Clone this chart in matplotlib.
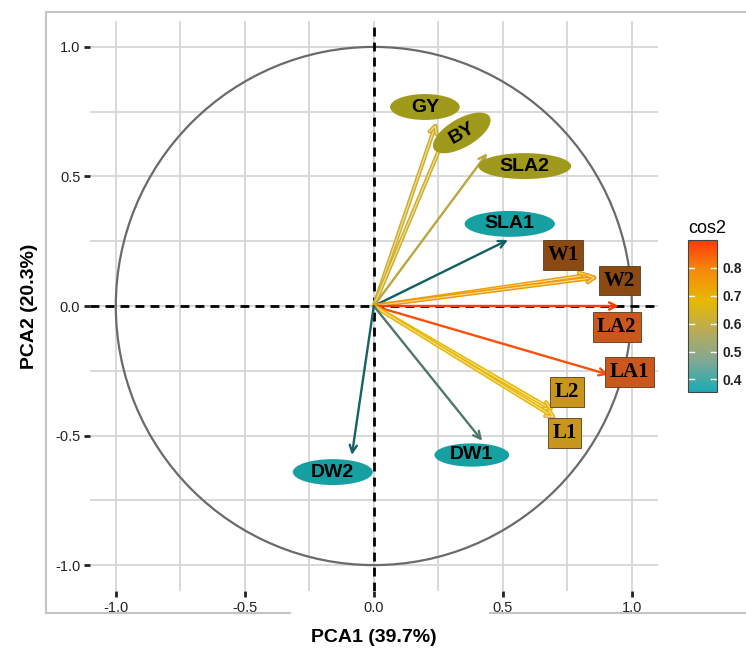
import numpy as np
import matplotlib
matplotlib.use('Agg')
import matplotlib.pyplot as plt
from matplotlib.colors import LinearSegmentedColormap, Normalize
from matplotlib.patches import Circle, Ellipse
from matplotlib.lines import Line2D
import matplotlib.patheffects as pe
import matplotlib.cm as cm

# variable coordinates on PC1 / PC2
var_names = ['GY', 'BY', 'SLA2', 'SLA1', 'W1', 'W2', 'LA2', 'LA1', 'L2', 'L1', 'DW1', 'DW2']
pc1 = [0.24, 0.29, 0.44, 0.52, 0.83, 0.86, 0.95, 0.91, 0.69, 0.70, 0.42, -0.085]
pc2 = [0.70, 0.69, 0.59, 0.255, 0.12, 0.11, 0.0, -0.265, -0.40, -0.43, -0.52, -0.575]
# quality of representation
cos2 = [0.62, 0.62, 0.60, 0.36, 0.74, 0.76, 0.90, 0.87, 0.68, 0.68, 0.45, 0.37]

# label placement and style
label_pos = [(0.198, 0.768), (0.341, 0.668), (0.585, 0.540), (0.527, 0.317),
             (0.733, 0.197), (0.953, 0.097), (0.942, -0.081), (0.992, -0.255),
             (0.748, -0.332), (0.740, -0.490), (0.380, -0.575), (-0.159, -0.641)]
label_shape = ['ell', 'ell', 'ell', 'ell', 'box', 'box', 'box', 'box', 'box', 'box', 'ell', 'ell']
label_color = ['#a09a1c', '#a09a1c', '#a09a1c', '#17a0a2', '#8b4a14', '#8b4a14',
               '#c9571e', '#c9571e', '#c8961c', '#c8961c', '#17a0a2', '#17a0a2']
hollow = ['GY', 'BY', 'W1', 'W2', 'L1', 'L2']
ell_size = {'GY': (0.27, 0.10), 'BY': (0.25, 0.11), 'SLA2': (0.36, 0.10),
            'SLA1': (0.35, 0.10), 'DW1': (0.29, 0.09), 'DW2': (0.31, 0.10)}
ell_angle = {'BY': 30}

cmap = LinearSegmentedColormap.from_list(
    'fx', ['#1aaab5', '#7fa894', '#b8ab58', '#E7B800', '#f58a0a', '#FC3a0a'])
norm = Normalize(vmin=0.355, vmax=0.90)

fig = plt.figure(figsize=(7.46, 6.48), dpi=100)
ax = fig.add_axes([90 / 746, 57 / 648, 567.6 / 746, 570 / 648])
ax.set_xlim(-1.1, 1.1)
ax.set_ylim(-1.1, 1.1)

grid_c = '#d6d6d6'
for g in np.arange(-1.0, 1.01, 0.25):
    ax.axvline(g, color=grid_c, lw=1.3, zorder=0)
    ax.axhline(g, color=grid_c, lw=1.3, zorder=0)
for s in ax.spines.values():
    s.set_visible(False)

ax.add_patch(Circle((0, 0), 1.0, fill=False, ec='#6a6a6a', lw=1.6, zorder=1))
ax.axhline(0, color='black', lw=2, ls=(0, (3.2, 2.2)), zorder=2)
ax.axvline(0, color='black', lw=2, ls=(0, (3.2, 2.2)), zorder=2)

for i, name in enumerate(var_names):
    n = norm(cos2[i])
    f = min(1.0, 0.55 + 0.9 * n)
    r, g, b, _ = cmap(n)
    c = (r * f, g * f, b * f)
    if name in hollow:
        ax.annotate('', xy=(pc1[i], pc2[i]), xytext=(0, 0),
                    arrowprops=dict(arrowstyle='->', color='#f6dc8c', lw=0.9,
                                    shrinkA=0, shrinkB=0, mutation_scale=13,
                                    path_effects=[pe.Stroke(linewidth=3.0, foreground=c),
                                                  pe.Normal()]),
                    zorder=3)
    else:
        ax.annotate('', xy=(pc1[i], pc2[i]), xytext=(0, 0),
                    arrowprops=dict(arrowstyle='->', color=c, lw=1.7,
                                    shrinkA=0, shrinkB=0, mutation_scale=13),
                    zorder=3)

for i, name in enumerate(var_names):
    lx, ly = label_pos[i]
    if label_shape[i] == 'ell':
        w, h = ell_size[name]
        ang = ell_angle.get(name, 0)
        ax.add_patch(Ellipse((lx, ly), w, h, angle=ang, fc=label_color[i],
                             ec='none', zorder=4))
        ax.text(lx, ly, name, ha='center', va='center', rotation=ang,
                fontsize=14, fontweight='bold', family='Liberation Sans',
                color='black', zorder=5)
    else:
        ax.text(lx, ly, name, ha='center', va='center',
                fontsize=15, fontweight='bold', family='Liberation Serif',
                color='black', zorder=5,
                bbox=dict(boxstyle='square,pad=0.22', fc=label_color[i],
                          ec='#5a3a1a', lw=0.6))

ticks = [-1.0, -0.5, 0.0, 0.5, 1.0]
ax.set_xticks(ticks)
ax.set_yticks(ticks)
ax.set_xticklabels(['-1.0', '-0.5', '0.0', '0.5', '1.0'])
ax.set_yticklabels(['-1.0', '-0.5', '0.0', '0.5', '1.0'])
ax.tick_params(length=4, width=2, color='#222222', labelsize=10.5,
               labelcolor='#222222', pad=3)
for lab in ax.get_xticklabels() + ax.get_yticklabels():
    lab.set_family('Liberation Sans')

ax.set_xlabel('PCA1 (39.7%)', fontsize=14, fontweight='bold',
              family='Liberation Sans', labelpad=10)
ax.set_ylabel('PCA2 (20.3%)', fontsize=14, fontweight='bold',
              family='Liberation Sans', labelpad=12)

# light frame round the plot
fc = '#c4c4c4'
y_top = 1 - 12 / 648
y_bot = 1 - 613 / 648
x_l = 46 / 746
fig.add_artist(Line2D([x_l, 1.0], [y_top, y_top], color=fc, lw=1.5))
fig.add_artist(Line2D([x_l, x_l], [y_bot, y_top], color=fc, lw=1.5))
fig.add_artist(Line2D([x_l, 290 / 746], [y_bot, y_bot], color=fc, lw=1.5))
fig.add_artist(Line2D([490 / 746, 1.0], [y_bot, y_bot], color=fc, lw=1.5))

# colour bar
cax = fig.add_axes([688 / 746, (648 - 392) / 648, 29 / 746, 152 / 648])
sm = cm.ScalarMappable(norm=norm, cmap=cmap)
cb = fig.colorbar(sm, cax=cax, ticks=[0.4, 0.5, 0.6, 0.7, 0.8])
cb.outline.set_edgecolor('#444444')
cb.outline.set_linewidth(0.8)
cax.tick_params(length=0, labelsize=10, pad=4, labelcolor='#222222')
for lab in cax.get_yticklabels():
    lab.set_family('Liberation Sans')
    lab.set_fontweight('bold')
for t in [0.4, 0.5, 0.6, 0.7, 0.8]:
    cax.plot([0, 0.2], [t, t], color='white', lw=1, transform=cax.get_yaxis_transform())
    cax.plot([0.8, 1.0], [t, t], color='white', lw=1, transform=cax.get_yaxis_transform())
cax.set_title('cos2', fontsize=13, family='Liberation Sans', loc='left', pad=5)

fig.savefig('out.png', dpi=100)
